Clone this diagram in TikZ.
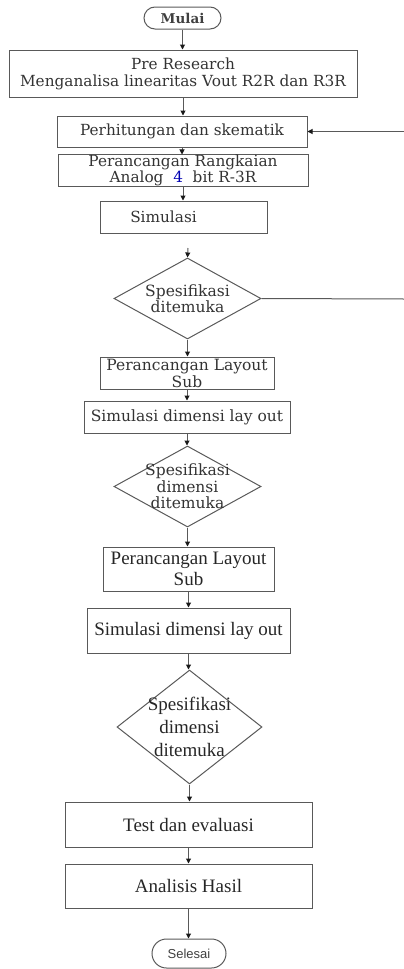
\documentclass[tikz,border=0pt]{standalone}
\usepackage{fontspec}
\setmainfont{Liberation Serif}
\newfontfamily\dejaserif{DejaVu Serif}
\newfontfamily\arialsans{Liberation Sans}
\usetikzlibrary{shapes.geometric,shapes.misc,arrows.meta}

\tikzset{
  flowbox/.style={draw=black!65, line width=1pt, rectangle, inner sep=0pt, align=center},
  upfont/.style={font=\dejaserif\fontsize{15.3}{17}\selectfont, text=black!80},
  lowfont/.style={font=\fontsize{19}{21}\selectfont, text=black!85},
  decision/.style={draw=black!65, line width=1pt, diamond, inner sep=0pt},
  terminal/.style={draw=black!65, line width=1pt, rounded rectangle, inner sep=0pt},
  flowarrow/.style={draw=black!65, line width=1pt, -{Triangle[length=5pt,width=5pt,color=black!90]}},
}

\begin{document}
\begin{tikzpicture}[x=1pt,y=1pt,yscale=-1,xscale=1]
\useasboundingbox (0,0) rectangle (404,969);

%Shape: Terminal [id:mulai]
\node [terminal, minimum width=77, minimum height=22, font=\dejaserif\bfseries\fontsize{13.5}{16}\selectfont, text=black!75] (mulai) at (182.5,18) {Mulai};
%Shape: Rectangle [id:preresearch]
\node [flowbox, upfont, minimum width=348, minimum height=47] (pre) at (183,73.5) {Pre Research\\Menganalisa linearitas Vout R2R dan R3R};
%Shape: Rectangle [id:perhitungan]
\node [flowbox, upfont, minimum width=250, minimum height=31] (hitung) at (182,131.5) {Perhitungan dan skematik};
%Shape: Rectangle [id:rangkaian]
\node [flowbox, upfont, font=\dejaserif\fontsize{15.3}{16}\selectfont, minimum width=250, minimum height=31] (rangkai) at (183,170.5) {Perancangan Rangkaian\\Analog \ {\color{blue!70!black}4} \ bit R-3R};
%Shape: Rectangle [id:simulasi]
\node [flowbox, upfont, minimum width=167, minimum height=32] (simul) at (183.5,217) {Simulasi\hspace{40pt}};
%Shape: Diamond [id:spek1]
\node [decision, minimum width=147, minimum height=81] (spekA) at (187.5,298.5) {};
\node [upfont, align=center, font=\dejaserif\fontsize{15.5}{16}\selectfont] (spekAtext) at (spekA) {Spesifikasi\\ditemuka};
%Shape: Rectangle [id:layout1]
\node [flowbox, upfont, font=\dejaserif\fontsize{15.5}{17}\selectfont, minimum width=174, minimum height=32] (layA) at (187,373) {Perancangan Layout\\Sub};
%Shape: Rectangle [id:simdim1]
\node [flowbox, upfont, font=\dejaserif\fontsize{15.5}{17}\selectfont, minimum width=206, minimum height=32] (simdimA) at (187,417) {Simulasi dimensi lay out};
%Shape: Diamond [id:spek2]
\node [decision, minimum width=147, minimum height=81] (spekB) at (187.5,486.5) {};
\node [upfont, align=center, font=\dejaserif\fontsize{15.5}{16.5}\selectfont] (spekBtext) at (spekB) {Spesifikasi\\dimensi\\ditemuka};
%Shape: Rectangle [id:layout2]
\node [flowbox, lowfont, minimum width=171, minimum height=44] (layB) at (188.5,569) {Perancangan Layout\\Sub};
%Shape: Rectangle [id:simdim2]
\node [flowbox, lowfont, minimum width=203, minimum height=45] (simdimB) at (188.5,630.5) {Simulasi dimensi lay out};
%Shape: Diamond [id:spek3]
\node [decision, minimum width=145, minimum height=114] (spekC) at (189.5,727) {};
\node [lowfont, align=center, font=\fontsize{19}{23}\selectfont] (spekCtext) at (spekC) {Spesifikasi\\dimensi\\ditemuka};
%Shape: Rectangle [id:test]
\node [flowbox, lowfont, minimum width=247, minimum height=45] (test) at (188.5,824.5) {Test dan evaluasi};
%Shape: Rectangle [id:analisis]
\node [flowbox, lowfont, minimum width=247, minimum height=44] (analisis) at (188.5,886) {Analisis Hasil};
%Shape: Terminal [id:selesai]
\node [terminal, minimum width=74, minimum height=29, font=\arialsans\fontsize{13}{15}\selectfont, text=black!75] (selesai) at (189,953.5) {Selesai};

%Straight Lines
\coordinate (gapA) at (188,248);
\coordinate (loopA) at (404,299);
\coordinate (loopB) at (404,131.5);
\draw [flowarrow] (mulai.south) -- (mulai.south |- pre.north);
\draw [flowarrow] (pre.south) -- (pre.south |- hitung.north);
\draw [flowarrow] (hitung.south) -- (hitung.south |- rangkai.north);
\draw [flowarrow] (rangkai.south) -- (rangkai.south |- simul.north);
\draw [flowarrow] (gapA) -- (spekA.north);
\draw [flowarrow] (spekA.south) -- (spekA.south |- layA.north);
\draw [flowarrow] (layA.south) -- (layA.south |- simdimA.north);
\draw [flowarrow] (simdimA.south) -- (simdimA.south |- spekB.north);
\draw [flowarrow] (spekB.south) -- (spekB.south |- layB.north);
\draw [flowarrow] (layB.south) -- (layB.south |- simdimB.north);
\draw [flowarrow] (simdimB.south) -- (simdimB.south |- spekC.north);
\draw [flowarrow] (spekC.south) -- (spekC.south |- test.north);
\draw [flowarrow] (test.south) -- (test.south |- analisis.north);
\draw [flowarrow] (analisis.south) -- (analisis.south |- selesai.north);
%Loop back
\draw [draw=black!65, line width=1pt] (spekA.east) -- (loopA);
\draw [flowarrow] (loopB) -- (hitung.east);

\end{tikzpicture}
\end{document}
